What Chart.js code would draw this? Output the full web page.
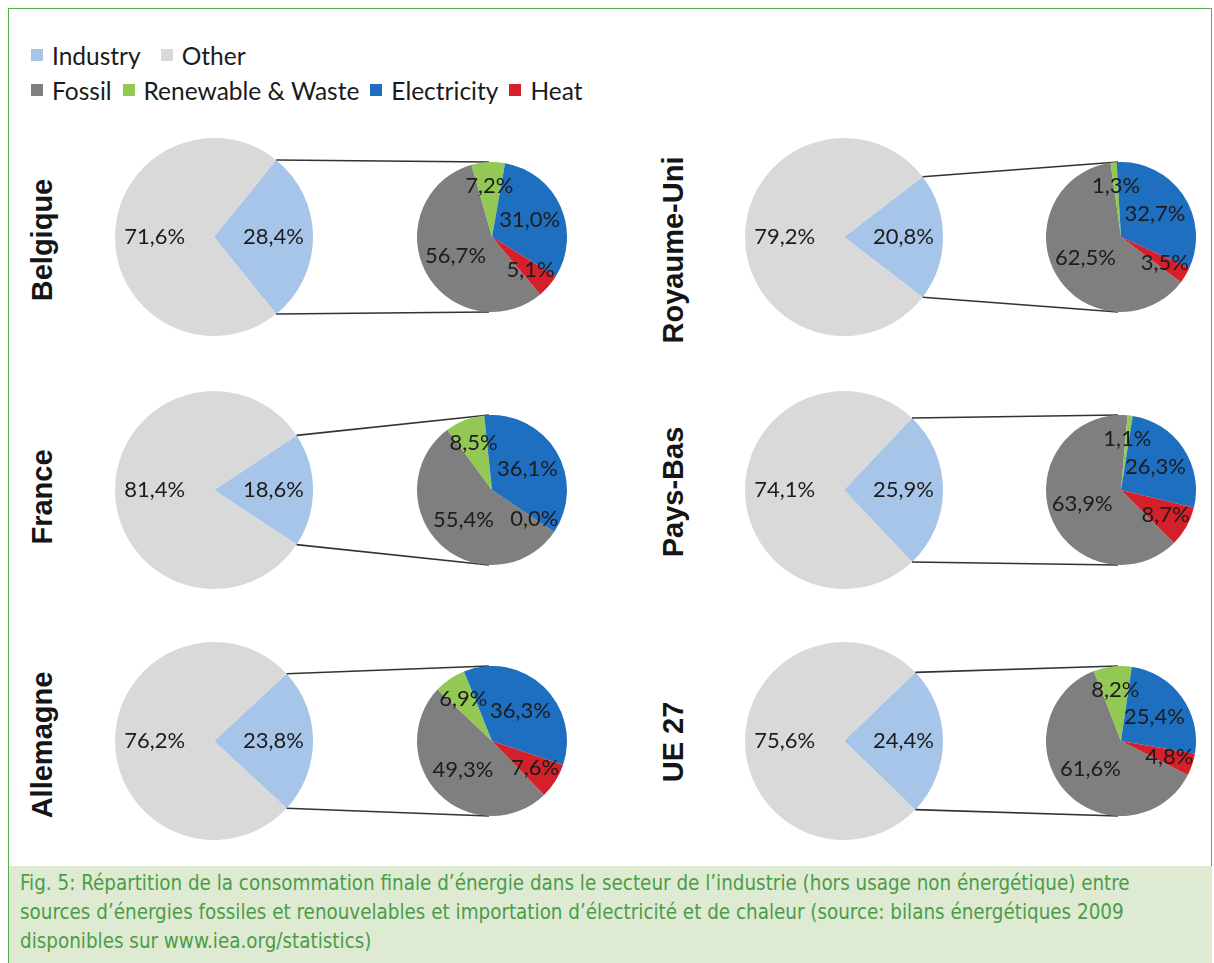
<!DOCTYPE html>
<html lang="fr">
<head>
<meta charset="UTF-8">
<title>Fig. 5 – Consommation finale d’énergie dans l’industrie</title>
<script src="https://cdn.jsdelivr.net/npm/chart.js"></script>
<style>
  body { margin: 0; background: #fff; }
  #fig { position: relative; width: 1214px; height: 963px; overflow: hidden; font-family: Lato, "Open Sans", sans-serif; }
  #frame { position: absolute; left: 8px; top: 8px; width: 1204px; height: 970px; border: 1.5px solid #58ad4f; box-sizing: border-box; }
  .legend { position: absolute; left: 31px; height: 28px; display: flex; align-items: center; font-size: 24.5px; color: #1b1b1b; }
  .legend .item { display: flex; align-items: center; }
  .legend .sw { width: 12px; height: 12px; margin-right: 9px; display: inline-block; }
  .panel canvas { position: absolute; }
  .country { position: absolute; writing-mode: vertical-rl; transform: translate(-50%, -50%) rotate(180deg);
             font: bold 29px "Liberation Sans", Arial, sans-serif; color: #151515; white-space: nowrap; }
  #caption { position: absolute; left: 9px; top: 866px; width: 1203px; height: 97px; background: #dfead3; color: #4a9d47;
             font-family: "Liberation Sans Narrow", "DejaVu Sans Condensed", sans-serif; font-size: 20.4px; line-height: 29px;
             padding: 3px 11px; box-sizing: border-box; white-space: nowrap; }
</style>
</head>
<body>
<div id="fig">
  <div id="frame"></div>
  <div class="legend" id="legend1" style="top:41px"></div>
  <div class="legend" id="legend2" style="top:76px"></div>
  <div id="panels"></div>
  <div id="caption">
    Fig. 5: Répartition de la consommation finale d’énergie dans le secteur de l’industrie (hors usage non énergétique) entre<br>
    sources d’énergies fossiles et renouvelables et importation d’électricité et de chaleur (source: bilans énergétiques 2009<br>
    disponibles sur www.iea.org/statistics)
  </div>
</div>

<script>
// données (%)
const countries = ['Belgique', 'Royaume-Uni', 'France', 'Pays-Bas', 'Allemagne', 'UE 27'];
const primaryLabels = ['Industry', 'Other'];
const industry = [28.4, 20.8, 18.6, 25.9, 23.8, 24.4];
const other = [71.6, 79.2, 81.4, 74.1, 76.2, 75.6];
const secondaryLabels = ['Fossil', 'Renewable & Waste', 'Electricity', 'Heat'];
const fossil = [56.7, 62.5, 55.4, 63.9, 49.3, 61.6];
const renewable = [7.2, 1.3, 8.5, 1.1, 6.9, 8.2];
const electricity = [31.0, 32.7, 36.1, 26.3, 36.3, 25.4];
const heat = [5.1, 3.5, 0.0, 8.7, 7.6, 4.8];

// couleurs
const primaryColors = ['#a7c5e8', '#d9d9d9'];
const secondaryColors = ['#7f7f7f', '#92c853', '#1f6fc1', '#d3202a'];

// mise en page : centre du grand camembert, du petit, et rotation du petit
const R1 = 99, R2 = 75;
const layout = [
  { bx: 214, sx: 492,  cy: 237, ly: 240, rot: 140 },
  { bx: 844, sx: 1121, cy: 237, ly: 250, rot: 127 },
  { bx: 214, sx: 492,  cy: 490, ly: 497, rot: 124 },
  { bx: 844, sx: 1121, cy: 490, ly: 492, rot: 135 },
  { bx: 214, sx: 492,  cy: 741, ly: 745, rot: 136 },
  { bx: 844, sx: 1121, cy: 741, ly: 742, rot: 117 }
];

function buildLegend(el, labels, colors, gap) {
  labels.forEach((l, i) => {
    const item = document.createElement('div');
    item.className = 'item';
    item.style.marginRight = gap + 'px';
    item.innerHTML = '<span class="sw" style="background:' + colors[i] + '"></span>' + l;
    el.appendChild(item);
  });
}
buildLegend(document.getElementById('legend1'), primaryLabels, primaryColors, 20);
buildLegend(document.getElementById('legend2'), secondaryLabels, secondaryColors, 11);

function pct(v) {
  return v.toFixed(1).replace('.', ',') + '%';
}

const sliceLabels = {
  id: 'sliceLabels',
  afterDatasetsDraw(chart, args, opts) {
    const ctx = chart.ctx;
    const values = chart.data.datasets[0].data;
    ctx.save();
    ctx.font = '22px Lato, "Open Sans", sans-serif';
    ctx.fillStyle = '#1c1c1c';
    ctx.textAlign = 'center';
    ctx.textBaseline = 'middle';
    chart.getDatasetMeta(0).data.forEach((arc, i) => {
      const v = values[i];
      const mid = (arc.startAngle + arc.endAngle) / 2;
      const f = v < 10 ? opts.small : opts.big;
      ctx.fillText(pct(v), arc.x + Math.cos(mid) * arc.outerRadius * f, arc.y + Math.sin(mid) * arc.outerRadius * f);
    });
    ctx.restore();
  }
};

// lignes entre la part "Industry" et le haut / bas du petit camembert
function connectors(small, dx, dy) {
  return {
    id: 'connectors',
    afterDatasetsDraw(chart) {
      const a = chart.getDatasetMeta(0).data[0];
      const s = small.getDatasetMeta(0).data[0];
      const sx = s.x + dx, sy = s.y + dy, sr = s.outerRadius;
      const ctx = chart.ctx;
      ctx.save();
      ctx.strokeStyle = '#333';
      ctx.lineWidth = 1.6;
      ctx.beginPath();
      ctx.moveTo(a.x + Math.cos(a.startAngle) * a.outerRadius, a.y + Math.sin(a.startAngle) * a.outerRadius);
      ctx.lineTo(sx - 3, sy - sr);
      ctx.moveTo(a.x + Math.cos(a.endAngle) * a.outerRadius, a.y + Math.sin(a.endAngle) * a.outerRadius);
      ctx.lineTo(sx - 3, sy + sr);
      ctx.stroke();
      ctx.restore();
    }
  };
}

const panels = document.getElementById('panels');
countries.forEach((name, i) => {
  const L = layout[i];
  const W = (L.sx - L.bx) + R1 + R2;
  const panel = document.createElement('div');
  panel.className = 'panel';
  panel.style.cssText = 'position:absolute;left:' + (L.bx - R1) + 'px;top:' + (L.cy - R1) + 'px;width:' + W + 'px;height:' + (2 * R1) + 'px';

  const big = document.createElement('canvas');
  big.width = W; big.height = 2 * R1;
  big.style.left = '0px'; big.style.top = '0px';
  const sm = document.createElement('canvas');
  sm.width = 2 * R2; sm.height = 2 * R2;
  const offX = L.sx - R2 - (L.bx - R1), offY = R1 - R2;
  sm.style.left = offX + 'px'; sm.style.top = offY + 'px';
  panel.appendChild(big);
  panel.appendChild(sm);
  panels.appendChild(panel);

  const lab = document.createElement('div');
  lab.className = 'country';
  lab.textContent = name;
  lab.style.left = (L.bx < 500 ? 42 : 673) + 'px';
  lab.style.top = L.ly + 'px';
  document.getElementById('fig').appendChild(lab);

  const smallChart = new Chart(sm, {
    type: 'pie',
    data: {
      labels: secondaryLabels,
      datasets: [{ data: [fossil[i], renewable[i], electricity[i], heat[i]], backgroundColor: secondaryColors, borderWidth: 0 }]
    },
    options: {
      responsive: false, animation: false, rotation: L.rot, events: [],
      plugins: { legend: { display: false }, tooltip: { enabled: false }, sliceLabels: { big: 0.55, small: 0.68 } }
    },
    plugins: [sliceLabels]
  });

  new Chart(big, {
    type: 'pie',
    data: {
      labels: primaryLabels,
      datasets: [{ data: [industry[i], other[i]], backgroundColor: primaryColors, borderWidth: 0 }]
    },
    options: {
      responsive: false, animation: false, rotation: 90 - industry[i] * 1.8, events: [],
      layout: { padding: { right: W - 2 * R1 } },
      plugins: { legend: { display: false }, tooltip: { enabled: false }, sliceLabels: { big: 0.6, small: 0.6 } }
    },
    plugins: [connectors(smallChart, offX, offY), sliceLabels]
  });
});
</script>
</body>
</html>
